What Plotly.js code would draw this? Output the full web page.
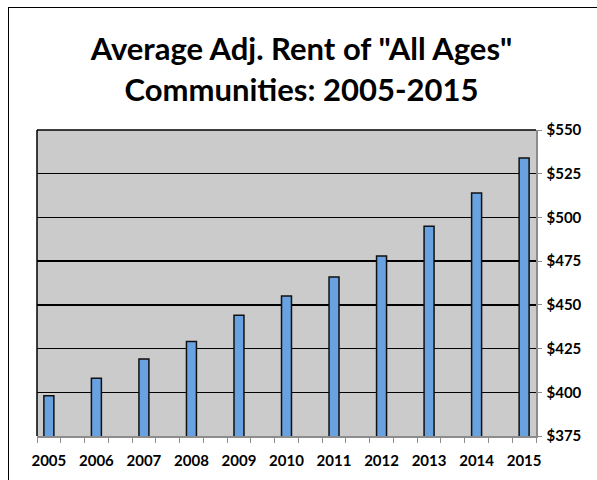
<!DOCTYPE html>
<html>
<head>
<meta charset="utf-8">
<script src="https://cdn.plot.ly/plotly-3.0.1.min.js"></script>
<style>
html,body{margin:0;padding:0;background:#fff;overflow:hidden;}
#wrap{position:relative;width:597px;height:480px;overflow:hidden;}
#chart{position:absolute;left:0;top:0;width:597px;height:480px;}
#frame{position:absolute;left:8px;top:7px;width:700px;height:600px;border-left:1.5px solid #000;border-top:1.5px solid #000;pointer-events:none;}
</style>
</head>
<body>
<div id="wrap"><div id="chart"></div><div id="frame"></div></div>
<script>
var years = [2005, 2006, 2007, 2008, 2009, 2010, 2011, 2012, 2013, 2014, 2015];
var rent = [398, 408, 419, 429, 444, 455, 466, 478, 495, 514, 534];
var yTicks = [375, 400, 425, 450, 475, 500, 525, 550];
var yTickText = yTicks.map(function(v){ return '$' + v; });
var xTickText = years.map(String);
var slotEdges = [];
for (var i = 0; i <= years.length * 2 - 1; i++) { slotEdges.push(years[0] - 0.25 + i * 0.5); }

var font = 'Lato, "Open Sans", sans-serif';

var trace = {
  type: 'bar',
  x: years,
  y: rent,
  width: 0.21,
  marker: { color: '#69A2E0', line: { color: '#111111', width: 1.5 } },
  hoverinfo: 'x+y'
};

var layout = {
  width: 597,
  height: 480,
  margin: { l: 37, r: 61, t: 130, b: 44 },
  paper_bgcolor: '#ffffff',
  plot_bgcolor: '#CBCBCB',
  showlegend: false,
  title: {
    text: 'Average Adj. Rent of "All Ages"<br>Communities: 2005-2015',
    font: { family: font, size: 31, color: '#000000', weight: 'bold' },
    x: 0.505, xanchor: 'center',
    y: 0.874, yanchor: 'top'
  },
  xaxis: {
    range: [years[0] - 0.25, years[years.length - 1] + 0.25],
    tickmode: 'array',
    tickvals: years,
    ticktext: xTickText,
    ticks: '',
    ticklabelstandoff: 10,
    showgrid: false,
    zeroline: false,
    showline: true,
    linecolor: '#8C8C8C',
    linewidth: 1.5,
    tickfont: { family: font, size: 15, color: '#000000', weight: 'bold' },
    minor: {
      tickmode: 'array',
      tickvals: slotEdges,
      ticks: 'outside',
      ticklen: 5,
      tickwidth: 1,
      tickcolor: '#8C8C8C',
      showgrid: false
    },
    fixedrange: true
  },
  yaxis: {
    side: 'right',
    range: [375, 550],
    tickmode: 'array',
    tickvals: yTicks,
    ticktext: yTickText,
    ticks: 'outside',
    ticklen: 4,
    tickcolor: '#8C8C8C',
    ticklabelstandoff: 2,
    showgrid: true,
    gridcolor: '#000000',
    gridwidth: 1.5,
    zeroline: false,
    showline: true,
    linecolor: '#8C8C8C',
    linewidth: 1.5,
    tickfont: { family: font, size: 15, color: '#000000', weight: 'bold' },
    fixedrange: true
  },
  shapes: [
    { type: 'line', xref: 'paper', yref: 'paper', x0: 0, x1: 0, y0: 0, y1: 1, line: { color: '#000000', width: 1.5 } },
    { type: 'line', xref: 'paper', yref: 'paper', x0: 0, x1: 1, y0: 1, y1: 1, line: { color: '#000000', width: 1.5 } }
  ]
};

Plotly.newPlot('chart', [trace], layout, { displayModeBar: false, staticPlot: true });
</script>
</body>
</html>
